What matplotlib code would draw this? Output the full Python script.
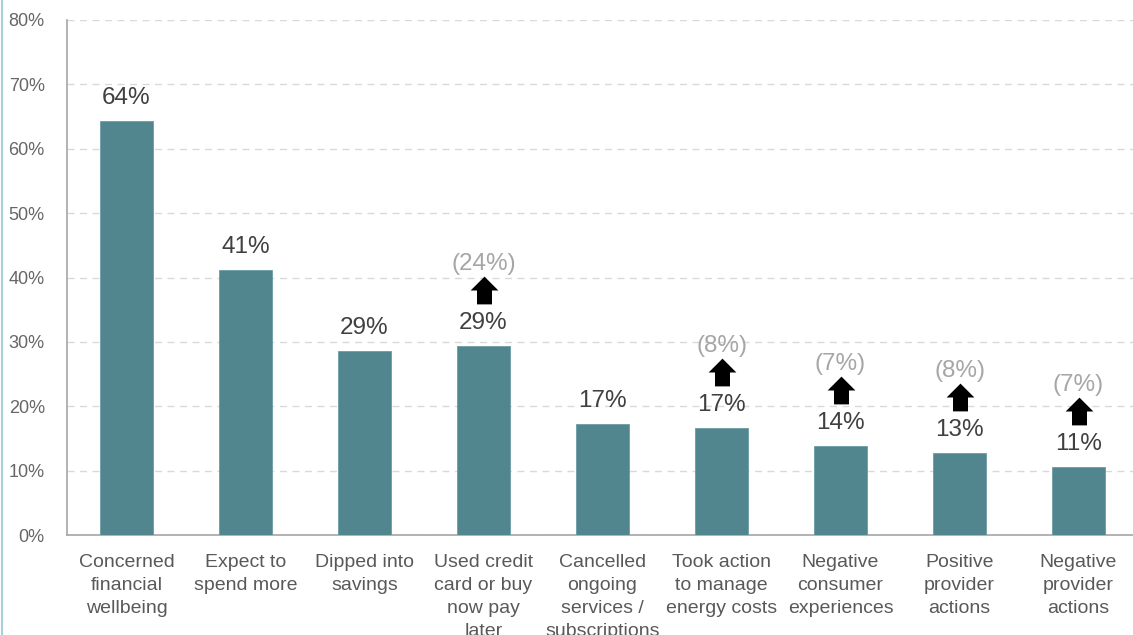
import matplotlib
matplotlib.use("Agg")
import matplotlib.pyplot as plt
from matplotlib.path import Path
from matplotlib.lines import Line2D
import matplotlib.transforms as mtransforms

plt.rcParams['font.family'] = ['Liberation Sans', 'DejaVu Sans']

categories = [
    "Concerned\nfinancial\nwellbeing",
    "Expect to\nspend more",
    "Dipped into\nsavings",
    "Used credit\ncard or buy\nnow pay\nlater",
    "Cancelled\nongoing\nservices /\nsubscriptions",
    "Took action\nto manage\nenergy costs",
    "Negative\nconsumer\nexperiences",
    "Positive\nprovider\nactions",
    "Negative\nprovider\nactions",
]
values = [64.3, 41.1, 28.6, 29.3, 17.2, 16.6, 13.8, 12.8, 10.6]
# previous-period figures shown in brackets above the rising items (None = not shown)
previous = [None, None, None, 24, None, 8, 7, 8, 7]
yticks = [0, 10, 20, 30, 40, 50, 60, 70, 80]

BAR = "#52868f"
W, H = 1133, 635
fig = plt.figure(figsize=(W / 100, H / 100), dpi=100)
ax = fig.add_axes([67 / W, 100 / H, 1071 / W, 515 / H])

x = list(range(len(values)))
ax.bar(x, values, width=0.445, color=BAR, edgecolor="#6c9ba3", linewidth=0.6, zorder=3)

ax.set_xlim(-0.5, len(values) - 0.5)
ax.set_ylim(0, 80)
ax.set_yticks(yticks)
ax.set_yticklabels([f"{t}%" for t in yticks], color="#666666", fontsize=13)
ax.set_xticks(x)
ax.set_xticklabels(categories, color="#595959", fontsize=14, linespacing=1.45, va="top")
ax.tick_params(axis="both", length=0)
ax.tick_params(axis="y", pad=16)
ax.tick_params(axis="x", pad=14)

ax.grid(axis="y", color="#d9d9d9", linestyle=(0, (5, 4)), linewidth=1.0, zorder=0)
for s in ("top", "right"):
    ax.spines[s].set_visible(False)
for s in ("left", "bottom"):
    ax.spines[s].set_color("#a6a6a6")
    ax.spines[s].set_linewidth(1.2)

# upward arrow marker
arrow = Path([(-0.27, -0.5), (0.27, -0.5), (0.27, 0.0), (0.5, 0.0), (0.0, 0.5),
              (-0.5, 0.0), (-0.27, 0.0), (-0.27, -0.5)],
             [Path.MOVETO] + [Path.LINETO] * 6 + [Path.CLOSEPOLY])

for i, (v, p) in enumerate(zip(values, previous)):
    ax.annotate(f"{round(v)}%", xy=(i, v), xytext=(0, 23), textcoords="offset pixels",
                ha="center", va="center", fontsize=17.5, color="#404040", zorder=5)
    if p is not None:
        tr = mtransforms.offset_copy(ax.transData, fig=fig, x=0, y=56, units="dots")
        ax.plot([i], [v], marker=arrow, markersize=20, color="black",
                markeredgewidth=0, transform=tr, zorder=5, clip_on=False)
        ax.annotate(f"({p}%)", xy=(i, v), xytext=(0, 82), textcoords="offset pixels",
                    ha="center", va="center", fontsize=17.5, color="#a6a6a6", zorder=5)

# thin accent line down the left edge of the figure
fig.add_artist(Line2D([1.5 / W, 1.5 / W], [0, 1], transform=fig.transFigure,
                      color="#a9d0d8", linewidth=1.5))

fig.savefig("out.png", dpi=100)
